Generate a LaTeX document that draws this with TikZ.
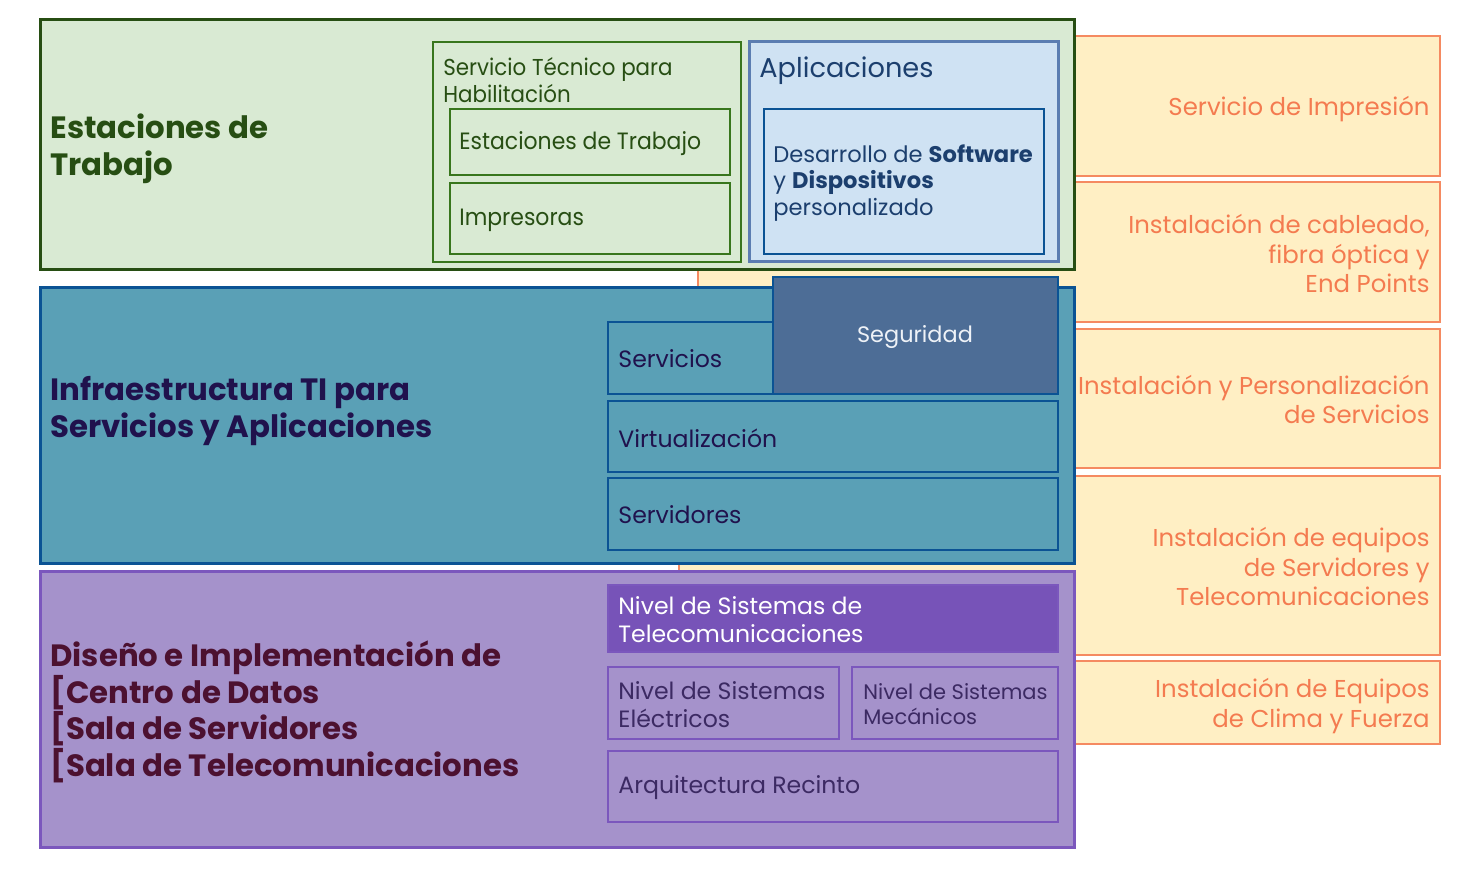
\documentclass[tikz,border=0pt]{standalone}
\usepackage{fontspec}
\setmainfont{Poppins}
\usepackage{tikz}
\usetikzlibrary{positioning}
\definecolor{greenfill}{HTML}{D9EAD3}
\definecolor{greenframe}{HTML}{274E13}
\definecolor{greenline}{HTML}{38761D}
\definecolor{bluefill}{HTML}{CFE2F3}
\definecolor{blueframe}{HTML}{5B7DB1}
\definecolor{bluedark}{HTML}{0B5394}
\definecolor{bluetext}{HTML}{1C3F6E}
\definecolor{tealfill}{HTML}{5AA0B6}
\definecolor{navytext}{HTML}{20124D}
\definecolor{segfill}{HTML}{4D6D96}
\definecolor{segtext}{HTML}{EEF2F7}
\definecolor{purplefill}{HTML}{A592CB}
\definecolor{purpleframe}{HTML}{7B57BD}
\definecolor{purpledark}{HTML}{7753B8}
\definecolor{purpletext}{HTML}{3C2A63}
\definecolor{maroontext}{HTML}{4C1130}
\definecolor{orangefill}{HTML}{FFEFC4}
\definecolor{orangeline}{HTML}{F58A61}
\definecolor{orangetext}{HTML}{F47B50}
\newfontfamily\narrowfont[FakeStretch=0.93]{Poppins}

\begin{document}
\begin{tikzpicture}[x=0.5pt, y=-0.5pt,
    bigbox/.style={line width=1.5pt},
    subbox/.style={line width=1.2pt},
    orangebox/.style={fill=orangefill, draw=orangeline, line width=1.2pt},
    orangelabel/.style={anchor=east, inner sep=0pt, align=right, text=orangetext, font=\fontsize{12.2}{14.75}\selectfont},
    title/.style={anchor=west, inner sep=0pt, align=left, font=\bfseries\fontsize{15.4}{18.25}\selectfont},
    label/.style={anchor=west, inner sep=0pt, align=left, font=\fontsize{11.8}{14}\selectfont}]
    \useasboundingbox[fill=white] (0,0) rectangle (1480,888);

    % Service column (right, behind the layers)
    \draw[orangebox] (700,36) rectangle (1440,176);
    \draw[orangebox] (698,182) rectangle (1440,322);
    \draw[orangebox] (690,329) rectangle (1440,468);
    \draw[orangebox] (679,476) rectangle (1440,655);
    \draw[orangebox] (679,661) rectangle (1440,744);
    \node[orangelabel] (impresion) at (1430,109) {Servicio de Impresión};
    \node[orangelabel] (cableado) at (1430,253.5) {Instalación de cableado,\\ fibra óptica y\\ End Points};
    \node[orangelabel] (personal) at (1430,399.5) {Instalación y Personalización\\ de Servicios};
    \node[orangelabel] (equipos) at (1430,566.5) {Instalación de equipos\\ de Servidores y\\ Telecomunicaciones};
    \node[orangelabel] (clima) at (1430,706) {Instalación de Equipos\\ de Clima y Fuerza};

    % Estaciones de Trabajo
    \draw[bigbox, draw=greenframe, fill=greenfill] (40,20) rectangle (1074,270);
    \node[title, text=greenframe] (estaciones) at (50,149) {Estaciones de\\ Trabajo};
    \draw[subbox, draw=greenline, fill=greenfill] (433,42) rectangle (741,262);
    \node[label, text=greenframe, font=\narrowfont\fontsize{11.5}{13.5}\selectfont] (tecnico) at (443,80.5) {Servicio Técnico para\\ Habilitación};
    \draw[subbox, draw=greenline] (450,109) rectangle (730,175);
    \node[label, text=greenframe, font=\narrowfont\fontsize{11.8}{14}\selectfont] (trabajo) at (459,144) {Estaciones de Trabajo};
    \draw[subbox, draw=greenline] (450,183) rectangle (730,254);
    \node[label, text=greenframe, font=\narrowfont\fontsize{11.8}{14}\selectfont] (impresoras) at (459,220) {Impresoras};
    \draw[bigbox, draw=blueframe, fill=bluefill] (749,42) rectangle (1058,262);
    \node[label, text=bluetext, font=\fontsize{13.6}{16}\selectfont] (aplicaciones) at (759,71) {Aplicaciones};
    \draw[subbox, draw=bluedark] (764,109) rectangle (1044,254);
    \node[label, text=bluetext, font=\fontsize{11.3}{13.25}\selectfont] (desarrollo) at (773,183)
        {Desarrollo de \textbf{Software}\\ y \textbf{Dispositivos}\\ personalizado};

    % Infraestructura TI
    \draw[bigbox, draw=bluedark, fill=tealfill] (40,288) rectangle (1074,563);
    \node[title, text=navytext] (infra) at (50,411) {Infraestructura TI para\\ Servicios y Aplicaciones};
    \draw[subbox, draw=bluedark] (608,322) rectangle (800,394);
    \node[label, text=navytext] (servicios) at (618,359) {Servicios};
    \draw[subbox, draw=bluedark, fill=segfill] (773,277) rectangle (1058,394);
    \node[text=segtext, inner sep=0pt, font=\fontsize{11.2}{14}\selectfont] (seguridad) at (915,337) {Seguridad};
    \draw[subbox, draw=bluedark] (608,401) rectangle (1058,472);
    \node[label, text=navytext] (virtual) at (618,438) {Virtualización};
    \draw[subbox, draw=bluedark] (608,478) rectangle (1058,550);
    \node[label, text=navytext] (servidores) at (618,515) {Servidores};

    % Centro de Datos
    \draw[bigbox, draw=purpleframe, fill=purplefill] (40,571) rectangle (1074,847);
    \node[title, text=maroontext] (diseno) at (50,712)
        {Diseño e Implementación de\\ {[}Centro de Datos\\ {[}Sala de Servidores\\ {[}Sala de Telecomunicaciones};
    \draw[subbox, draw=purpleframe, fill=purpledark] (608,585) rectangle (1058,652);
    \node[label, text=white] (telecom) at (618,620) {Nivel de Sistemas de\\ Telecomunicaciones};
    \draw[subbox, draw=purpleframe] (608,667) rectangle (839,739);
    \node[label, text=purpletext] (electricos) at (618,705) {Nivel de Sistemas\\ Eléctricos};
    \draw[subbox, draw=purpleframe] (852,667) rectangle (1058,739);
    \node[label, text=purpletext, font=\fontsize{10.5}{12.5}\selectfont] (mecanicos) at (863,704.5) {Nivel de Sistemas\\ Mecánicos};
    \draw[subbox, draw=purpleframe] (608,751) rectangle (1058,822);
    \node[label, text=purpletext] (recinto) at (618,788) {Arquitectura Recinto};
\end{tikzpicture}
\end{document}
